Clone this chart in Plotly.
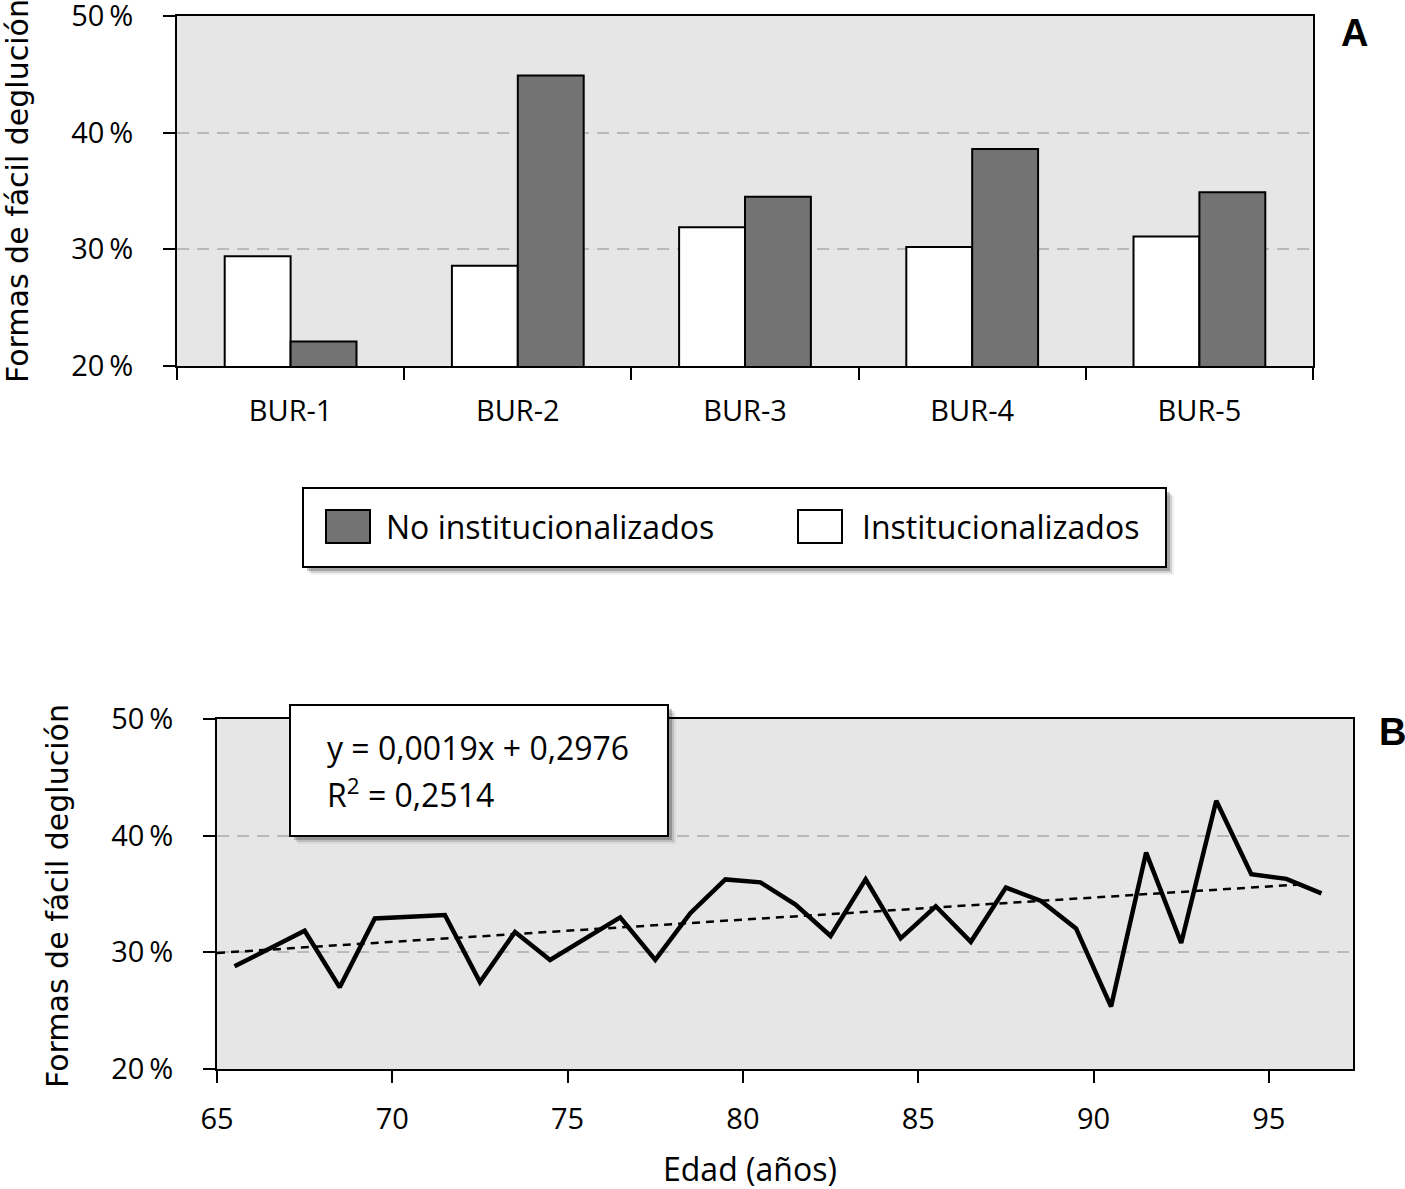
import plotly.graph_objects as go

W, H = 1405, 1189

# ---------------- data ----------------
centros = ["BUR-1", "BUR-2", "BUR-3", "BUR-4", "BUR-5"]
institucionalizados = [29.4, 28.6, 31.9, 30.2, 31.1]
no_institucionalizados = [22.1, 44.9, 34.5, 38.6, 34.9]

edades = [65, 66, 67, 68, 69, 70, 71, 72, 73, 74, 75, 76, 77, 78, 79, 80,
          81, 82, 83, 84, 85, 86, 87, 88, 89, 90, 91, 92, 93, 94, 95, 96]
deglucion = [28.8, 30.35, 31.85, 27.0, 32.9, 33.05, 33.2, 27.45, 31.75, 29.35,
             31.15, 33.0, 29.35, 33.35, 36.25, 36.0, 34.1, 31.4, 36.25, 31.2,
             33.95, 30.9, 35.55, 34.4, 32.05, 25.35, 38.55, 30.8, 43.0, 36.7,
             36.3, 35.05]
pendiente = 0.0019
ordenada = 0.2976
r2 = "0,2514"

y_ticks = [20, 30, 40, 50]
y_ticktext = ["20\u2009%", "30\u2009%", "40\u2009%", "50\u2009%"]
x_ticks = [65, 70, 75, 80, 85, 90, 95]

# ---------------- helpers ----------------
def px(x):
    return x / W

def py(y):
    return 1 - y / H

TICK_FONT = dict(family="Open Sans, sans-serif", size=29, color="black")
TITLE_FONT = dict(family="DejaVu Sans, sans-serif", size=30, color="black")
TXT_FONT = dict(family="Open Sans, sans-serif", size=32, color="black")

fig = go.Figure()

# ---------------- panel A: bars ----------------
fig.add_trace(go.Bar(
    x=centros, y=institucionalizados, name="Institucionalizados",
    marker=dict(color="white", line=dict(color="black", width=2)),
    xaxis="x", yaxis="y", showlegend=False))
fig.add_trace(go.Bar(
    x=centros, y=no_institucionalizados, name="No institucionalizados",
    marker=dict(color="#737373", line=dict(color="black", width=2)),
    xaxis="x", yaxis="y", showlegend=False))

# ---------------- panel B: line + trend ----------------
fig.add_trace(go.Scatter(
    x=[e + 0.5 for e in edades], y=deglucion, mode="lines",
    line=dict(color="black", width=4.5), xaxis="x2", yaxis="y2",
    showlegend=False))
idx = [i + 1 for i in range(len(edades))]
trend = [(pendiente * i + ordenada) * 100 for i in idx]
fig.add_trace(go.Scatter(
    x=edades, y=trend, mode="lines",
    line=dict(color="black", width=2.5, dash="8px,6px"),
    xaxis="x2", yaxis="y2", showlegend=False))

axis_common = dict(showline=True, linecolor="black", linewidth=2, mirror=True,
                   ticks="outside", tickcolor="black", tickwidth=2,
                   ticklen=12, tickfont=TICK_FONT, zeroline=False,
                   automargin=False, ticklabeloverflow="allow")

fig.update_layout(
    width=W, height=H, autosize=False,
    margin=dict(l=0, r=0, t=0, b=0, pad=0, autoexpand=False),
    showlegend=False,
    paper_bgcolor="white",
    barmode="group", bargap=0.42, bargroupgap=0,
    xaxis=dict(domain=[px(177), px(1313)], anchor="y", type="category",
               tickson="boundaries", showgrid=False,
               ticklabelstandoff=18, **axis_common),
    yaxis=dict(domain=[py(366), py(16)], anchor="x", range=[20, 50],
               tickvals=y_ticks, ticktext=y_ticktext,
               showgrid=True, gridcolor="#b9b9b9", gridwidth=2,
               griddash="12px,8px", ticklabelstandoff=24, **axis_common),
    xaxis2=dict(domain=[px(217), px(1353)], anchor="y2", range=[65, 97.4],
                tickvals=x_ticks, showgrid=False,
                ticklabelstandoff=11, **axis_common),
    yaxis2=dict(domain=[py(1069), py(719)], anchor="x2", range=[20, 50],
                tickvals=y_ticks, ticktext=y_ticktext,
                showgrid=True, gridcolor="#b9b9b9", gridwidth=2,
                griddash="12px,8px", ticklabelstandoff=24, **axis_common),
    plot_bgcolor="#e6e6e6",
)

shapes = []

def shadow_box(x0, y0, x1, y1):
    for off, op in [(8, 0.06), (6, 0.12), (4, 0.22)]:
        shapes.append(dict(type="rect", xref="paper", yref="paper",
                           x0=px(x0 + off), x1=px(x1 + off),
                           y0=py(y1 + off), y1=py(y0 + off),
                           line=dict(width=0),
                           fillcolor=f"rgba(0,0,0,{op})", layer="above"))
    shapes.append(dict(type="rect", xref="paper", yref="paper",
                       x0=px(x0), x1=px(x1), y0=py(y1), y1=py(y0),
                       line=dict(color="black", width=2),
                       fillcolor="white", layer="above"))

# legend box
shadow_box(303, 488, 1166, 567)
shapes.append(dict(type="rect", xref="paper", yref="paper",
                   x0=px(326), x1=px(370), y0=py(543), y1=py(510),
                   line=dict(color="black", width=2), fillcolor="#737373",
                   layer="above"))
shapes.append(dict(type="rect", xref="paper", yref="paper",
                   x0=px(798), x1=px(842), y0=py(543), y1=py(510),
                   line=dict(color="black", width=2), fillcolor="white",
                   layer="above"))
# equation box
shadow_box(290, 705, 668, 836)

fig.update_layout(shapes=shapes)

ann = []
ann.append(dict(text="Formas de fácil deglución", x=px(17), y=py(191),
                xref="paper", yref="paper", textangle=-90, showarrow=False,
                font=TITLE_FONT, xanchor="center", yanchor="middle"))
ann.append(dict(text="Formas de fácil deglución", x=px(57), y=py(896),
                xref="paper", yref="paper", textangle=-90, showarrow=False,
                font=TITLE_FONT, xanchor="center", yanchor="middle"))
ann.append(dict(text="Edad (años)", x=px(750), y=py(1168),
                xref="paper", yref="paper", showarrow=False,
                font=TXT_FONT, xanchor="center", yanchor="middle"))
ann.append(dict(text="<b>A</b>", x=px(1354), y=py(33),
                xref="paper", yref="paper", showarrow=False,
                font=dict(family="Liberation Sans, Arial, sans-serif", size=38,
                          color="black"),
                xanchor="center", yanchor="middle"))
ann.append(dict(text="<b>B</b>", x=px(1377), y=py(732),
                xref="paper", yref="paper", showarrow=False,
                font=dict(family="Liberation Sans, Arial, sans-serif", size=38,
                          color="black"),
                xanchor="left", yanchor="middle"))
ann.append(dict(text="No institucionalizados", x=px(384), y=py(526),
                xref="paper", yref="paper", showarrow=False,
                font=TXT_FONT, xanchor="left", yanchor="middle"))
ann.append(dict(text="Institucionalizados", x=px(860), y=py(526),
                xref="paper", yref="paper", showarrow=False,
                font=TXT_FONT, xanchor="left", yanchor="middle"))
eq = f"y = {pendiente:.4f}x + {ordenada:.4f}".replace(".", ",")
ann.append(dict(text=eq, x=px(325), y=py(747),
                xref="paper", yref="paper", showarrow=False,
                font=TXT_FONT, xanchor="left", yanchor="middle"))
ann.append(dict(text=f"R<sup>2</sup> = {r2}", x=px(325), y=py(793),
                xref="paper", yref="paper", showarrow=False,
                font=TXT_FONT, xanchor="left", yanchor="middle"))
fig.update_layout(annotations=ann)

fig.write_html(
    "out.html",
    config={"displayModeBar": False},
    post_script=("document.documentElement.style.margin='0';"
                 "document.body.style.margin='0';"
                 "document.body.style.overflow='hidden';"),
)
